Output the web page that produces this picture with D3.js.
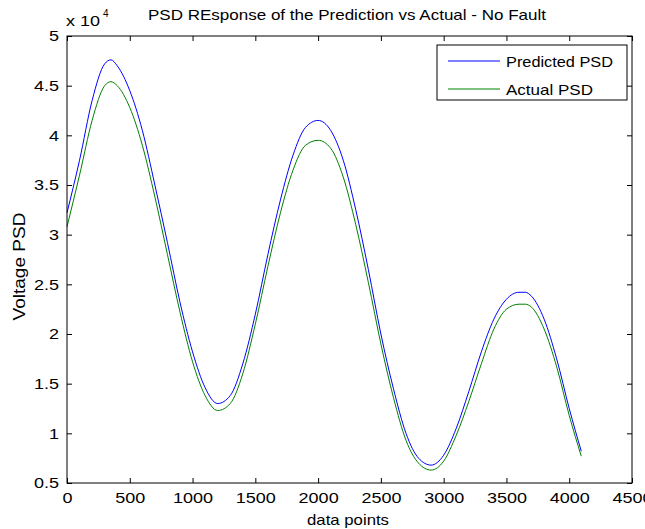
<!DOCTYPE html>
<html>
<head>
<meta charset="utf-8">
<script src="https://cdn.jsdelivr.net/npm/d3@7"></script>
<style>
  body { margin: 0; background: #fff; }
  text { font-family: "Liberation Sans", Arial, sans-serif; fill: #000; }
</style>
</head>
<body>
<svg id="chart" width="645" height="529"></svg>
<script>
// data points (x) and PSD values (x 10^4)
const xPoints = [0, 100, 200, 300, 350, 400, 500, 600, 700, 800, 900, 1000, 1100, 1200, 1300, 1400,
  1500, 1600, 1700, 1800, 1900, 2000, 2100, 2200, 2300, 2400, 2500, 2600, 2700, 2800, 2900,
  3000, 3100, 3200, 3300, 3400, 3500, 3600, 3650, 3700, 3800, 3900, 4000, 4096];
const predicted = [3.22, 3.75, 4.35, 4.72, 4.76, 4.70, 4.45, 4.05, 3.50, 2.92, 2.32, 1.82, 1.46, 1.30, 1.38, 1.70,
  2.20, 2.80, 3.35, 3.80, 4.08, 4.15, 4.05, 3.75, 3.25, 2.65, 2.00, 1.45, 1.00, 0.75, 0.68,
  0.78, 1.05, 1.42, 1.82, 2.15, 2.35, 2.42, 2.42, 2.38, 2.15, 1.75, 1.25, 0.82];
const actual = [3.08, 3.60, 4.15, 4.50, 4.54, 4.50, 4.28, 3.90, 3.38, 2.80, 2.22, 1.72, 1.38, 1.23, 1.30, 1.60,
  2.10, 2.68, 3.22, 3.65, 3.90, 3.95, 3.87, 3.58, 3.10, 2.52, 1.90, 1.36, 0.93, 0.70, 0.63,
  0.72, 0.98, 1.32, 1.70, 2.05, 2.25, 2.30, 2.30, 2.27, 2.05, 1.67, 1.18, 0.77];
const xTicks = [0, 500, 1000, 1500, 2000, 2500, 3000, 3500, 4000, 4500];
const yTicks = [0.5, 1, 1.5, 2, 2.5, 3, 3.5, 4, 4.5, 5];
const seriesNames = ["Predicted PSD", "Actual PSD"];
const seriesColors = ["#0000ff", "#008000"];

const svg = d3.select('#chart');
const plotL = 67, plotR = 632, plotT = 36, plotB = 483;

const x = d3.scaleLinear().domain([0, 4500]).range([plotL, plotR]);
const y = d3.scaleLinear().domain([0.5, 5]).range([plotB, plotT]);

// the exported figure is a bit wider than tall, so widen the text to match
const stretch = (sel, k) => sel.each(function () {
  const w = this.getComputedTextLength();
  d3.select(this).attr('textLength', w * k).attr('lengthAdjust', 'spacingAndGlyphs');
});

const g = svg.append('g');

// series lines
const line = vals => d3.line()
  .x((d, i) => x(xPoints[i]))
  .y(d => y(d))
  .curve(d3.curveMonotoneX)(vals);

[predicted, actual].forEach((vals, k) => {
  g.append('path').attr('d', line(vals))
    .attr('fill', 'none').attr('stroke', seriesColors[k]).attr('stroke-width', 1);
});

// axes, ticks inward on all four sides
const tickLen = 5;
const axisBottom = d3.axisBottom(x).tickValues(xTicks).tickSize(-tickLen).tickPadding(9).tickFormat(d3.format('d'));
const axisTop = d3.axisTop(x).tickValues(xTicks).tickSize(-tickLen).tickFormat('');
const axisLeft = d3.axisLeft(y).tickValues(yTicks).tickSize(-tickLen).tickPadding(8).tickFormat(d => d);
const axisRight = d3.axisRight(y).tickValues(yTicks).tickSize(-tickLen).tickFormat('');

const styleAxis = sel => {
  sel.select('.domain').remove();
  sel.selectAll('line').attr('stroke', '#000');
  sel.selectAll('text').attr('font-size', 15).attr('font-family', '"Liberation Sans", Arial, sans-serif')
    .call(stretch, 1.2);
};

g.append('g').attr('transform', `translate(0,${plotB})`).call(axisBottom).call(styleAxis);
g.append('g').attr('transform', `translate(0,${plotT})`).call(axisTop).call(styleAxis);
g.append('g').attr('transform', `translate(${plotL},0)`).call(axisLeft).call(styleAxis);
g.append('g').attr('transform', `translate(${plotR},0)`).call(axisRight).call(styleAxis);

// frame
g.append('rect').attr('x', plotL).attr('y', plotT)
  .attr('width', plotR - plotL).attr('height', plotB - plotT)
  .attr('fill', 'none').attr('stroke', '#000').attr('stroke-width', 1);

// exponent label
const expo = svg.append('text').attr('x', 66).attr('y', 26).attr('font-size', 15);
expo.append('tspan').text('x 10').call(stretch, 1.2);
expo.append('tspan').attr('x', 103).attr('y', 17).attr('font-size', 10).text('4');

// title
svg.append('text').attr('x', 347).attr('y', 20).attr('text-anchor', 'middle')
  .attr('font-size', 15).text('PSD REsponse of the Prediction vs Actual - No Fault')
  .attr('textLength', 398).attr('lengthAdjust', 'spacingAndGlyphs');

// axis labels
svg.append('text').attr('x', 348).attr('y', 525).attr('text-anchor', 'middle')
  .attr('font-size', 15).text('data points')
  .attr('textLength', 82).attr('lengthAdjust', 'spacingAndGlyphs');
svg.append('text').attr('transform', `translate(25,${(plotT + plotB) / 2 + 7}) rotate(-90)`)
  .attr('text-anchor', 'middle').attr('font-size', 16).text('Voltage PSD')
  .attr('textLength', 108).attr('lengthAdjust', 'spacingAndGlyphs');

// legend
const lg = svg.append('g');
lg.append('rect').attr('x', 437).attr('y', 45).attr('width', 190).attr('height', 55)
  .attr('fill', '#fff').attr('stroke', '#000');
const legendWidths = [107, 87];
seriesNames.forEach((name, k) => {
  const ly = 61 + k * 28;
  lg.append('line').attr('x1', 448).attr('x2', 500).attr('y1', ly).attr('y2', ly)
    .attr('stroke', seriesColors[k]);
  lg.append('text').attr('x', 506).attr('y', ly + 6).attr('font-size', 15).text(name)
    .attr('textLength', legendWidths[k]).attr('lengthAdjust', 'spacingAndGlyphs');
});
</script>
</body>
</html>
